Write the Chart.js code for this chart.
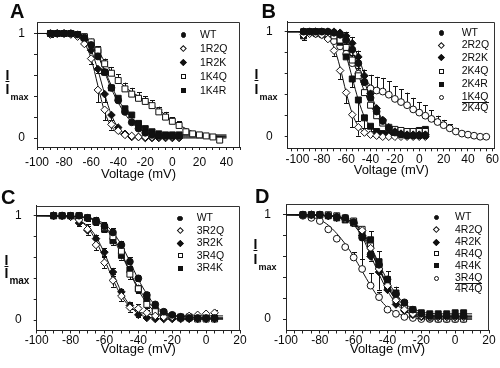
<!DOCTYPE html>
<html>
<head>
<meta charset="utf-8">
<script src="https://cdn.jsdelivr.net/npm/chart.js@4.4.1/dist/chart.umd.min.js"></script>
<style>
  html,body{margin:0;padding:0;background:#fff;}
  body{width:500px;height:368px;position:relative;overflow:hidden;font-family:'Liberation Sans',Arial,Helvetica,sans-serif;color:#0a0a0a;}
  .panel{position:absolute;width:250px;height:184px;}
  .panel canvas{position:absolute;left:0;top:0;}
  .letter{position:absolute;font-weight:bold;font-size:20px;line-height:20px;}
  .ylab{position:absolute;font-weight:bold;font-size:14px;line-height:14px;white-space:nowrap;}
  .ylab .sub{font-size:9px;position:relative;top:6px;margin-left:1px;}
  .lg{position:absolute;font-size:10.5px;line-height:10px;white-space:nowrap;}
  .lg u{text-decoration:none;border-bottom:1px solid #111;}
  .mk{position:absolute;box-sizing:border-box;}
</style>
</head>
<body>
<div class="panel" style="left:0;top:0"><canvas id="cA" width="250" height="184"></canvas></div>
<div class="panel" style="left:250px;top:0"><canvas id="cB" width="250" height="184"></canvas></div>
<div class="panel" style="left:0;top:184px"><canvas id="cC" width="250" height="184"></canvas></div>
<div class="panel" style="left:250px;top:184px"><canvas id="cD" width="250" height="184"></canvas></div>
<div id="overlay"></div>
<script>
// ================= DATA =================
// Panel A
const vA  = [-90,-85,-80,-75,-70,-65,-60,-55,-50,-45,-40,-35,-30,-25,-20,-15,-10,-5,0,5];
const vA2 = [-90,-85,-80,-75,-70,-65,-60,-55,-50,-45,-40,-35,-30,-25,-20,-15,-10,-5,0,5,10,15,20,25,30,35];
const A_WT   = [1.00,1.00,1.00,1.00,0.99,0.96,0.89,0.78,0.63,0.48,0.36,0.25,0.15,0.09,0.05,0.03,0.02,0.02,0.02,0.02];
const A_1R2Q = [0.99,1.00,1.00,0.99,0.97,0.90,0.76,0.46,0.27,0.13,0.07,0.03,0.02,0.01,0.01,0.01,0.01,0.01,0.01,0.01];
const A_1R2K = [1.00,1.00,1.00,1.00,0.98,0.94,0.84,0.66,0.42,0.22,0.10,0.04,0.01,0.01,0.00,0.00,0.00,0.00,0.00,0.00];
const A_1K4Q = [1.00,1.00,1.00,1.00,0.99,0.97,0.92,0.84,0.71,0.62,0.55,0.47,0.42,0.38,0.35,0.31,0.25,0.20,0.16,0.12,0.06,0.04,0.03,0.02,0.01,-0.02];
const A_1K4R = [1.00,1.00,1.00,1.00,0.99,0.96,0.91,0.82,0.63,0.48,0.38,0.28,0.22,0.14,0.09,0.06,0.04,0.03,0.03,0.03];
const eA_WT   = [0.03,0,0,0,0,0,0,0,0,0,0,0,0,0,0,0,0,0,0,0];
const eA_1R2Q = [0,0,0,0,0,0,0.05,0.12,0.10,0.05,0,0,0,0,0,0,0,0,0,0];
const eA_1R2K = [0,0,0,0,0,0,0,0.04,0.08,0.05,0,0,0,0,0,0,0,0,0,0];
const eA_1K4Q = [0,0,0,0,0,0,0.03,0.04,0.05,0.06,0.06,0.06,0.06,0.06,0.05,0.05,0.05,0.05,0.04,0.04,0.03,0.02,0,0,0,0];
const eA_1K4R = [0,0,0,0,0,0,0,0.03,0.03,0.03,0,0,0,0,0,0,0,0,0,0];
const fA = [-100,-90,-80,-75,-70,-65,-60,-55,-50,-45,-40,-35,-30,-25,-20,-15,-10,-5,0,10,20,30,40];
const fitA_WT   = [1,1,1,0.995,0.985,0.96,0.90,0.79,0.63,0.47,0.34,0.23,0.15,0.09,0.06,0.04,0.03,0.02,0.02,0.02,0.02,0.02,0.02];
const fitA_1R2Q = [1,1,0.995,0.99,0.97,0.91,0.76,0.50,0.25,0.11,0.05,0.02,0.01,0.01,0.01,0.01,0.01,0.01,0.01,0.01,0.01,0.01,0.01];
const fitA_1R2K = [1,1,1,0.995,0.98,0.94,0.84,0.65,0.42,0.22,0.10,0.04,0.02,0.01,0,0,0,0,0,0,0,0,0];
const fitA_1K4Q = [1,1,0.995,0.99,0.98,0.96,0.92,0.84,0.73,0.63,0.55,0.49,0.44,0.40,0.36,0.32,0.27,0.22,0.17,0.09,0.04,0.02,0.01];
const fitA_1K4R = [1,1,1,0.995,0.985,0.96,0.91,0.81,0.65,0.50,0.37,0.27,0.19,0.13,0.09,0.06,0.04,0.03,0.03,0.03,0.03,0.03,0.03];

// Panel B
const vB  = [-95,-90,-85,-80,-75,-70,-65,-60,-55,-50,-45,-40,-35,-30,-25,-20,-15,-10,-5,0,5];
const vB2 = [-95,-90,-85,-80,-75,-70,-65,-60,-55,-50,-45,-40,-35,-30,-25,-20,-15,-10,-5,0,5,10,15,20,25,30,35,40,45,50,55];
const B_WT   = [1.00,1.00,1.00,1.00,1.00,0.99,0.97,0.92,0.83,0.70,0.52,0.37,0.24,0.15,0.08,0.04,0.02,0.01,0.01,0.01,0.01];
const B_2R2Q = [0.97,0.98,0.98,0.97,0.93,0.82,0.63,0.42,0.21,0.09,0.04,0.02,0.01,0.00,0.00,0.00,0.00,0.00,0.00,0.00,0.00];
const B_2R2K = [1.00,1.00,1.00,1.00,1.00,1.00,0.99,0.96,0.89,0.76,0.58,0.41,0.27,0.16,0.09,0.05,0.03,0.02,0.02,0.02,0.02];
const B_2K4Q = [1.00,1.00,1.00,0.99,0.98,0.96,0.92,0.85,0.73,0.58,0.42,0.30,0.20,0.13,0.09,0.07,0.06,0.05,0.05,0.05,0.05];
const B_2K4R = [0.96,1.00,1.00,1.00,0.99,0.97,0.90,0.76,0.55,0.35,0.18,0.10,0.05,0.03,0.02,0.02,0.03,0.04,0.05,0.06,0.07];
const B_DBL  = [1.00,0.99,0.98,0.97,0.95,0.91,0.86,0.79,0.70,0.60,0.52,0.46,0.44,0.43,0.40,0.36,0.33,0.30,0.26,0.23,0.20,0.17,0.14,0.11,0.08,0.05,0.03,0.02,0.01,0.00,0.00];
const eB_WT   = [0,0,0,0,0,0,0.03,0.05,0.05,0.05,0,0,0,0,0,0,0,0,0,0,0];
const eB_2R2Q = [0,0,0,0,0,0.05,0.08,0.10,0.12,0.08,0,0,0,0,0,0,0,0,0,0,0];
const eB_2R2K = [0,0,0,0,0,0,0,0.04,0.06,0.06,0,0,0,0,0,0,0,0,0,0,0];
const eB_2K4Q = [0,0,0,0,0,0,0,0,0,0,0,0,0,0,0,0,0,0,0,0,0];
const eB_2K4R = [0.04,0,0,0,0,0,0,0,0.08,0.20,0.10,0.05,0,0,0,0,0,0,0,0,0];
const eB_DBL  = [0,0,0,0,0,0,0.04,0.06,0.08,0.10,0.12,0.13,0.13,0.13,0.13,0.12,0.12,0.12,0.11,0.10,0.10,0.08,0.06,0.05,0.04,0.03,0,0,0,0,0];
const fB  = [-108,-100,-90,-80,-75,-70,-65,-60,-55,-50,-45,-40,-35,-30,-25,-20,-15,-10,-5,0,5];
const fB2 = [-108,-100,-90,-80,-75,-70,-65,-60,-55,-50,-45,-40,-35,-30,-25,-20,-15,-10,-5,0,5,10,20,30,40,50,58];
const fitB_WT   = [1,1,1,0.995,0.99,0.98,0.95,0.90,0.81,0.68,0.52,0.37,0.24,0.15,0.09,0.05,0.03,0.02,0.01,0.01,0.01];
const fitB_2R2Q = [1,1,0.99,0.97,0.94,0.85,0.66,0.42,0.22,0.10,0.04,0.02,0.01,0,0,0,0,0,0,0,0];
const fitB_2R2K = [1,1,1,1,0.995,0.99,0.98,0.95,0.88,0.76,0.59,0.42,0.27,0.16,0.09,0.05,0.03,0.02,0.02,0.02,0.02];
const fitB_2K4Q = [1,1,1,0.995,0.99,0.97,0.93,0.86,0.74,0.59,0.43,0.30,0.20,0.13,0.09,0.07,0.06,0.05,0.05,0.05,0.05];
const fitB_2K4R = [1,1,1,0.995,0.99,0.97,0.91,0.77,0.56,0.35,0.19,0.10,0.06,0.04,0.03,0.03,0.03,0.04,0.05,0.06,0.07];
const fitB_DBL  = [1,1,0.99,0.975,0.96,0.93,0.88,0.80,0.71,0.62,0.55,0.49,0.45,0.42,0.39,0.36,0.33,0.30,0.26,0.23,0.20,0.17,0.11,0.06,0.03,0.01,0];

// Panel C
const vC = [-90,-85,-80,-75,-70,-65,-60,-55,-50,-45,-40,-35,-30,-25,-20,-15,-10,-5,0,5];
const C_WT   = [1.00,1.00,1.00,1.00,0.98,0.95,0.90,0.84,0.72,0.56,0.40,0.24,0.15,0.08,0.05,0.03,0.02,0.02,0.02,0.02];
const C_3R2Q = [1.00,1.00,0.99,0.96,0.87,0.72,0.55,0.38,0.23,0.12,0.11,0.07,0.04,0.03,0.03,0.03,0.04,0.05,0.06,0.07];
const C_3R2K = [1.00,1.00,0.99,0.93,0.86,0.78,0.65,0.46,0.27,0.14,0.05,0.02,0.01,0.01,0.01,0.01,0.01,0.01,0.01,0.01];
const C_3R4Q = [1.00,1.00,1.00,1.00,0.98,0.95,0.89,0.80,0.66,0.44,0.30,0.15,0.08,0.05,0.03,0.02,0.02,0.01,0.01,0.01];
const C_3R4K = [1.00,1.00,1.00,1.00,0.98,0.94,0.87,0.76,0.62,0.48,0.30,0.20,0.10,0.07,0.04,0.03,0.03,0.02,0.02,0.02];
const eC_WT   = [0,0,0,0,0.03,0.04,0.04,0.04,0.04,0.04,0.03,0.03,0,0,0,0,0,0,0,0];
const eC_3R2Q = [0,0,0,0.03,0.05,0.05,0.05,0.06,0.05,0.04,0.04,0.03,0,0,0,0,0,0,0,0.03];
const eC_3R2K = [0,0,0,0.03,0.04,0.04,0.04,0.04,0.03,0.03,0.02,0,0,0,0,0,0,0,0,0];
const eC_3R4Q = [0,0,0,0,0,0.03,0.04,0.05,0.05,0.05,0.04,0.03,0,0,0,0,0,0,0,0];
const eC_3R4K = [0,0,0,0,0,0.03,0.03,0.04,0.04,0.04,0.03,0.03,0,0,0,0,0,0,0,0];
const fC = [-100,-90,-80,-75,-70,-65,-60,-55,-50,-45,-40,-35,-30,-25,-20,-10,0,10];
const fitC_WT   = [1,1,0.995,0.99,0.98,0.96,0.92,0.84,0.72,0.56,0.39,0.25,0.14,0.08,0.05,0.03,0.02,0.02];
const fitC_3R2Q = [1,0.995,0.98,0.95,0.89,0.76,0.58,0.39,0.23,0.13,0.08,0.06,0.05,0.045,0.04,0.04,0.04,0.04];
const fitC_3R2K = [1,1,0.99,0.96,0.90,0.80,0.64,0.45,0.27,0.14,0.06,0.03,0.02,0.01,0.01,0.01,0.01,0.01];
const fitC_3R4Q = [1,1,0.995,0.99,0.98,0.95,0.90,0.80,0.65,0.46,0.29,0.16,0.08,0.04,0.02,0.01,0.01,0.01];
const fitC_3R4K = [1,1,0.995,0.99,0.98,0.95,0.89,0.78,0.63,0.46,0.31,0.19,0.11,0.07,0.04,0.03,0.02,0.02];

// Panel D
const vD = [-90,-85,-80,-75,-70,-65,-60,-55,-50,-45,-40,-35,-30,-25,-20,-15,-10,-5,0,5];
const D_WT   = [1.00,1.00,1.00,0.99,0.98,0.97,0.93,0.78,0.62,0.52,0.38,0.24,0.16,0.09,0.05,0.03,0.03,0.03,0.03,0.03];
const D_4R2Q = [1.00,1.00,1.00,0.99,0.98,0.96,0.92,0.85,0.68,0.48,0.32,0.18,0.09,0.05,0.03,0.02,0.02,0.02,0.02,0.02];
const D_4R2K = [1.00,1.00,1.00,0.99,0.97,0.96,0.92,0.80,0.60,0.45,0.28,0.14,0.08,0.04,0.02,0.02,0.02,0.02,0.02,0.02];
const D_4R4Q = [1.00,1.00,1.00,1.00,0.99,0.97,0.94,0.86,0.70,0.50,0.32,0.18,0.10,0.05,0.03,0.01,0.00,0.00,0.00,0.00];
const D_4R4K = [1.00,1.00,1.00,0.99,0.97,0.95,0.92,0.82,0.76,0.55,0.38,0.25,0.15,0.09,0.06,0.05,0.05,0.05,0.06,0.06];
const D_DBL  = [0.99,0.97,0.94,0.86,0.77,0.69,0.59,0.48,0.32,0.21,0.09,0.05,0.02,0.01,0.00,0.00,0.00,0.00,0.00,0.00];
const eD_WT   = [0,0,0,0,0,0,0.04,0.30,0.06,0.05,0,0,0,0,0,0,0,0,0,0];
const eD_4R2Q = [0,0,0,0,0,0,0,0,0.05,0.20,0.05,0,0,0,0,0,0,0,0,0];
const eD_4R2K = [0,0,0,0,0.03,0,0,0,0.05,0.05,0.05,0,0,0,0,0,0,0,0,0];
const eD_4R4Q = [0,0,0,0,0,0,0,0,0,0,0,0,0,0,0,0,0,0,0,0];
const eD_4R4K = [0,0,0,0,0,0,0,0,0.08,0.10,0.08,0.06,0,0,0,0,0,0,0,0];
const eD_DBL  = [0,0,0,0,0,0,0.05,0.10,0.12,0.05,0,0,0,0,0,0,0,0,0,0];
const fD = [-100,-90,-80,-75,-70,-65,-60,-55,-50,-45,-40,-35,-30,-25,-20,-10,0,10];
const fitD_WT   = [1,1,0.995,0.99,0.98,0.96,0.91,0.81,0.65,0.48,0.33,0.21,0.13,0.08,0.05,0.03,0.03,0.03];
const fitD_4R2Q = [1,1,0.995,0.99,0.98,0.96,0.92,0.83,0.67,0.48,0.31,0.18,0.10,0.06,0.03,0.02,0.02,0.02];
const fitD_4R2K = [1,1,0.995,0.99,0.98,0.95,0.90,0.79,0.61,0.43,0.27,0.15,0.08,0.04,0.02,0.02,0.02,0.02];
const fitD_4R4Q = [1,1,0.995,0.99,0.98,0.96,0.93,0.85,0.70,0.50,0.32,0.18,0.09,0.04,0.02,0,0,0];
const fitD_4R4K = [1,1,0.995,0.99,0.98,0.96,0.92,0.84,0.70,0.53,0.37,0.24,0.15,0.10,0.07,0.05,0.05,0.05];
const fitD_DBL  = [1,0.99,0.95,0.90,0.82,0.72,0.60,0.46,0.32,0.20,0.11,0.06,0.03,0.01,0,0,0,0];

// Tick labels
const xLabelsA = [-100,-80,-60,-40,-20,0,20,40];
const xLabelsB = [-100,-80,-60,-40,-20,0,20,40,60];
const xLabelsC = [-100,-80,-60,-40,-20,0,20];
const xLabelsD = [-100,-80,-60,-40,-20,0,20];
const yLabels = [0,1];

// ================= STYLE =================
const FONT = "'Liberation Sans', Arial, Helvetica, sans-serif";
Chart.defaults.font.family = FONT;
Chart.defaults.color = '#0a0a0a';
const INK = '#111';
const STY = {
  WT:  {ps:'circle',  r:3.4, bg:INK,    css:'circle', fill:true},
  R2Q: {ps:'rectRot', r:3.8, bg:'#fff', css:'diamond', fill:false},
  R2K: {ps:'rectRot', r:3.8, bg:INK,    css:'diamond', fill:true},
  K4Q: {ps:'rect',    r:4.2, bg:'#fff', css:'square', fill:false},
  K4R: {ps:'rect',    r:4.2, bg:INK,    css:'square', fill:true},
  DBL: {ps:'circle',  r:3.4, bg:'#fff', css:'circle', fill:false}
};

const errorBarPlugin = {
  id: 'errbars',
  beforeDatasetsDraw(chart) {
    const {ctx, scales:{x, y}} = chart;
    ctx.save();
    ctx.strokeStyle = INK; ctx.lineWidth = 1;
    chart.data.datasets.forEach(ds => {
      if (!ds.errors) return;
      ds.data.forEach((p, i) => {
        const e = ds.errors[i];
        if (!e) return;
        const px = Math.round(x.getPixelForValue(p.x)) + 0.5;
        const py = y.getPixelForValue(p.y);
        const ends = [];
        if (ds.errDir !== 'down') ends.push(y.getPixelForValue(p.y + e));
        if (ds.errDir !== 'up') ends.push(y.getPixelForValue(p.y - e));
        ends.forEach(ey => {
          ctx.beginPath();
          ctx.moveTo(px, py); ctx.lineTo(px, ey);
          ctx.moveTo(px - 2.5, Math.round(ey) + 0.5); ctx.lineTo(px + 2.5, Math.round(ey) + 0.5);
          ctx.stroke();
        });
      });
    });
    ctx.restore();
  }
};
const framePlugin = {
  id: 'frame',
  beforeDatasetsDraw(chart) {
    const {ctx, chartArea:{left, top, right, bottom}} = chart;
    ctx.save();
    ctx.strokeStyle = '#333'; ctx.lineWidth = 1;
    const t = Math.round(top) + 0.5, r = Math.round(right) - 0.5;
    ctx.beginPath();
    ctx.moveTo(left, t); ctx.lineTo(r, t); ctx.lineTo(r, bottom);
    ctx.stroke();
    ctx.restore();
  }
};

function makePanel(canvasId, P) {
  const datasets = [];
  P.series.forEach(s => {
    datasets.push({
      type: 'line', label: s.name + ' fit',
      data: s.fx.slice(0, s.fy.length).map((x, i) => ({x, y: s.fy[i]})),
      borderColor: INK, borderWidth: 1, pointRadius: 0, fill: false,
      cubicInterpolationMode: 'monotone', order: 5
    });
  });
  P.series.forEach(s => {
    const st = STY[s.sty];
    datasets.push({
      type: 'scatter', label: s.name,
      data: s.x.map((x, i) => ({x, y: s.y[i]})),
      pointStyle: st.ps, pointRadius: st.r, backgroundColor: st.bg,
      borderColor: INK, borderWidth: 1, order: 1,
      errors: s.err, errDir: s.dir
    });
  });
  const a = P.area;
  return new Chart(document.getElementById(canvasId), {
    type: 'scatter',
    data: { datasets },
    plugins: [errorBarPlugin, framePlugin],
    options: {
      responsive: false, animation: false,
      layout: { padding: { left: 0, top: a.t, right: 250 - a.r, bottom: 0 } },
      plugins: { legend: { display: false }, tooltip: { enabled: false } },
      scales: {
        x: {
          type: 'linear', min: P.xMin, max: P.xMax,
          afterBuildTicks: sc => {
            const t = [];
            for (let v = P.tickStart; v <= P.xMax + 1e-9; v += 5) t.push({value: v});
            sc.ticks = t;
          },
          afterFit: sc => { sc.height = 184 - a.b; sc.paddingLeft = 0; sc.paddingRight = 0; },
          ticks: {
            autoSkip: false, maxRotation: 0, padding: P.xPad,
            font: { size: 12 }, color: '#0a0a0a',
            callback: v => P.xLabels.includes(v) ? String(v) : ''
          },
          grid: { display: true, drawOnChartArea: false, drawTicks: true, tickLength: 3, color: '#222' },
          border: { display: true, color: '#222', width: 1 },
          title: { display: true, text: 'Voltage (mV)', font: { size: 13 }, color: '#0a0a0a', padding: { top: 0, bottom: P.titlePad } }
        },
        y: {
          type: 'linear', min: P.yMin, max: P.yMax,
          afterBuildTicks: sc => {
            const t = [];
            for (let k = 0; k <= 10; k++) t.push({value: k / 10});
            sc.ticks = t;
          },
          afterFit: sc => { sc.width = a.l; sc.paddingTop = 0; sc.paddingBottom = 0; },
          ticks: {
            padding: P.yPad, font: { size: 12 }, color: '#0a0a0a',
            callback: v => yLabels.includes(v) ? String(v) : ''
          },
          grid: { display: true, drawOnChartArea: false, drawTicks: true, tickLength: 3, color: '#222' },
          border: { display: true, color: '#222', width: 1 }
        }
      }
    }
  });
}

makePanel('cA', {
  area: {l: 37, t: 22, r: 240, b: 147}, xMin: -100, xMax: 50, tickStart: -100,
  yMin: -0.086, yMax: 1.11, xPad: 5, titlePad: 2, yPad: 9, xLabels: xLabelsA,
  series: [
    {name: 'WT',   sty: 'WT',  x: vA,  y: A_WT,   err: eA_WT,   dir: 'both', fx: fA, fy: fitA_WT},
    {name: '1R2Q', sty: 'R2Q', x: vA,  y: A_1R2Q, err: eA_1R2Q, dir: 'down', fx: fA, fy: fitA_1R2Q},
    {name: '1R2K', sty: 'R2K', x: vA,  y: A_1R2K, err: eA_1R2K, dir: 'down', fx: fA, fy: fitA_1R2K},
    {name: '1K4Q', sty: 'K4Q', x: vA2, y: A_1K4Q, err: eA_1K4Q, dir: 'up',   fx: fA, fy: fitA_1K4Q},
    {name: '1K4R', sty: 'K4R', x: vA,  y: A_1K4R, err: eA_1K4R, dir: 'up',   fx: fA, fy: fitA_1K4R}
  ]
});
makePanel('cB', {
  area: {l: 37.7, t: 21.7, r: 247.5, b: 148.3}, xMin: -108, xMax: 62, tickStart: -105,
  yMin: -0.11, yMax: 1.095, xPad: 1, titlePad: 5.5, yPad: 12, xLabels: xLabelsB,
  series: [
    {name: 'WT',   sty: 'WT',  x: vB,  y: B_WT,   err: eB_WT,   dir: 'both', fx: fB,  fy: fitB_WT},
    {name: '2R2Q', sty: 'R2Q', x: vB,  y: B_2R2Q, err: eB_2R2Q, dir: 'down', fx: fB,  fy: fitB_2R2Q},
    {name: '2R2K', sty: 'R2K', x: vB,  y: B_2R2K, err: eB_2R2K, dir: 'up',   fx: fB,  fy: fitB_2R2K},
    {name: '2K4Q', sty: 'K4Q', x: vB,  y: B_2K4Q, err: eB_2K4Q, dir: 'up',   fx: fB,  fy: fitB_2K4Q},
    {name: '2K4R', sty: 'K4R', x: vB,  y: B_2K4R, err: eB_2K4R, dir: 'down', fx: fB,  fy: fitB_2K4R},
    {name: '1K4Q/2K4Q', sty: 'DBL', x: vB2, y: B_DBL, err: eB_DBL, dir: 'up', fx: fB2, fy: fitB_DBL}
  ]
});
makePanel('cC', {
  area: {l: 36.7, t: 21.7, r: 240, b: 146.5}, xMin: -100, xMax: 20, tickStart: -100,
  yMin: -0.10, yMax: 1.096, xPad: 0, titlePad: 10.5, yPad: 12, xLabels: xLabelsC,
  series: [
    {name: 'WT',   sty: 'WT',  x: vC, y: C_WT,   err: eC_WT,   dir: 'both', fx: fC, fy: fitC_WT},
    {name: '3R2Q', sty: 'R2Q', x: vC, y: C_3R2Q, err: eC_3R2Q, dir: 'both', fx: fC, fy: fitC_3R2Q},
    {name: '3R2K', sty: 'R2K', x: vC, y: C_3R2K, err: eC_3R2K, dir: 'both', fx: fC, fy: fitC_3R2K},
    {name: '3R4Q', sty: 'K4Q', x: vC, y: C_3R4Q, err: eC_3R4Q, dir: 'both', fx: fC, fy: fitC_3R4Q},
    {name: '3R4K', sty: 'K4R', x: vC, y: C_3R4K, err: eC_3R4K, dir: 'both', fx: fC, fy: fitC_3R4K}
  ]
});
makePanel('cD', {
  area: {l: 36, t: 20, r: 239, b: 146.5}, xMin: -100, xMax: 20, tickStart: -100,
  yMin: -0.11, yMax: 1.103, xPad: 0, titlePad: 10.5, yPad: 12, xLabels: xLabelsD,
  series: [
    {name: 'WT',   sty: 'WT',  x: vD, y: D_WT,   err: eD_WT,   dir: 'down', fx: fD, fy: fitD_WT},
    {name: '4R2Q', sty: 'R2Q', x: vD, y: D_4R2Q, err: eD_4R2Q, dir: 'down', fx: fD, fy: fitD_4R2Q},
    {name: '4R2K', sty: 'R2K', x: vD, y: D_4R2K, err: eD_4R2K, dir: 'up',   fx: fD, fy: fitD_4R2K},
    {name: '4R4Q', sty: 'K4Q', x: vD, y: D_4R4Q, err: eD_4R4Q, dir: 'up',   fx: fD, fy: fitD_4R4Q},
    {name: '4R4K', sty: 'K4R', x: vD, y: D_4R4K, err: eD_4R4K, dir: 'up',   fx: fD, fy: fitD_4R4K},
    {name: '3R4Q/4R4Q', sty: 'DBL', x: vD, y: D_DBL, err: eD_DBL, dir: 'up', fx: fD, fy: fitD_DBL}
  ]
});

// ================= OVERLAY TEXT (letters, y titles, legends) =================
const ov = document.getElementById('overlay');
function add(html, cls, left, top, extra) {
  const d = document.createElement('div');
  d.className = cls; d.innerHTML = html;
  d.style.left = left + 'px'; d.style.top = top + 'px';
  if (extra) d.style.cssText += extra;
  ov.appendChild(d);
  return d;
}
add('A', 'letter', 10, 1.4);
add('B', 'letter', 261.5, 1.4);
add('C', 'letter', 1, 187.4);
add('D', 'letter', 255, 185.6);
function ytitle(x, capTop, gap, subSize) {
  add('<u>I</u>', 'ylab', x, capTop - 1.8);
  add('I<span class="sub" style="font-size:' + subSize + 'px">max</span>', 'ylab', x, capTop + gap - 1.8);
}
ytitle(5.5, 70, 14, 9);
ytitle(254.5, 68.5, 15, 9);
ytitle(4.5, 254.5, 13.5, 10);
ytitle(253.5, 239, 15, 9);

function legend(items, mx, tx, rows) {
  items.forEach((it, i) => {
    const cy = rows[i];
    const st = STY[it.sty];
    const m = document.createElement('div');
    m.className = 'mk';
    let w = 5.5;
    if (st.css === 'circle') { w = 5.5; m.style.borderRadius = '50%'; }
    if (st.css === 'square') { w = 5; }
    if (st.css === 'diamond') { w = 4.6; m.style.transform = 'rotate(45deg)'; }
    m.style.width = w + 'px'; m.style.height = w + 'px';
    m.style.left = (mx - w / 2) + 'px'; m.style.top = (cy + 1 - w / 2) + 'px';
    m.style.background = st.fill ? INK : '#fff';
    m.style.border = '1px solid ' + INK;
    ov.appendChild(m);
    if (Array.isArray(it.label)) {
      add('<u>' + it.label[0] + '</u>', 'lg', tx, cy - 4.9);
      add(it.label[1], 'lg', tx, cy + 10.7 - 4.9);
    } else {
      add(it.label, 'lg', tx, cy - 4.9);
    }
  });
}
legend([{label:'WT',sty:'WT'},{label:'1R2Q',sty:'R2Q'},{label:'1R2K',sty:'R2K'},{label:'1K4Q',sty:'K4Q'},{label:'1K4R',sty:'K4R'}],
  183.3, 200, [34, 47.5, 61.5, 75.7, 89.5]);
legend([{label:'WT',sty:'WT'},{label:'2R2Q',sty:'R2Q'},{label:'2R2K',sty:'R2K'},{label:'2K4Q',sty:'K4Q'},{label:'2K4R',sty:'K4R'},{label:['1K4Q','2K4Q'],sty:'DBL'}],
  441.7, 461.7, [32, 44, 56.7, 70, 83, 96.3]);
legend([{label:'WT',sty:'WT'},{label:'3R2Q',sty:'R2Q'},{label:'3R2K',sty:'R2K'},{label:'3R4Q',sty:'K4Q'},{label:'3R4K',sty:'K4R'}],
  180, 196.7, [217.3, 229.5, 242, 254.7, 267.3]);
legend([{label:'WT',sty:'WT'},{label:'4R2Q',sty:'R2Q'},{label:'4R2K',sty:'R2K'},{label:'4R4Q',sty:'K4Q'},{label:'4R4K',sty:'K4R'},{label:['3R4Q','4R4Q'],sty:'DBL'}],
  436.7, 455, [216.3, 228.5, 241, 252.5, 264.5, 277.3]);
</script>
</body>
</html>
